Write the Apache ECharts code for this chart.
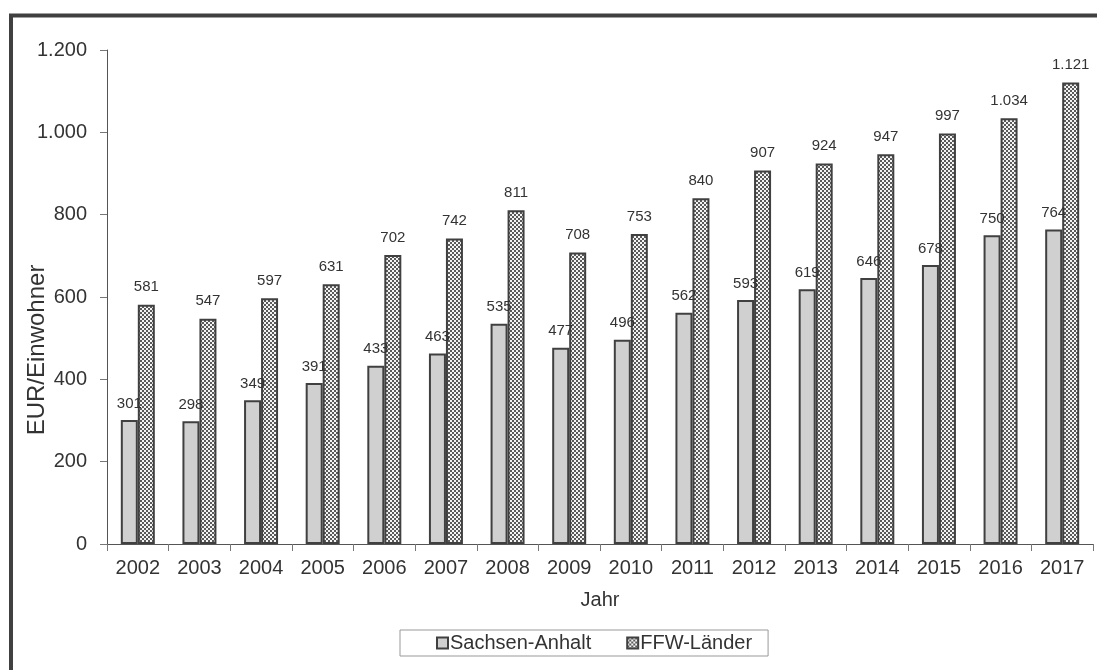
<!DOCTYPE html>
<html>
<head>
<meta charset="utf-8">
<script src="https://cdn.jsdelivr.net/npm/echarts@6/dist/echarts.min.js"></script>
<style>
html,body{margin:0;padding:0;background:#fff;}
#chart{width:1097px;height:670px;}
</style>
</head>
<body>
<div id="chart"></div>
<script>
const years = ['2002','2003','2004','2005','2006','2007','2008','2009','2010','2011','2012','2013','2014','2015','2016','2017'];
const sachsenAnhalt = [301,298,349,391,433,463,535,477,496,562,593,619,646,678,750,764];
const ffwLaender = [581,547,597,631,702,742,811,708,753,840,907,924,947,997,1034,1121];
const seriesNames = ['Sachsen-Anhalt','FFW-Länder'];
const yTicks = {min:0, max:1200, interval:200};
const yAxisTitle = 'EUR/Einwohner';
const xAxisTitle = 'Jahr';

function de(v){
  const s = String(Math.round(v));
  return s.replace(/\B(?=(\d{3})+(?!\d))/g, '.');
}

const pc = document.createElement('canvas');
pc.width = 4; pc.height = 4;
const g = pc.getContext('2d');
g.fillStyle = '#f4f4f4'; g.fillRect(0,0,4,4);
g.fillStyle = '#5a5a5a'; g.fillRect(0,0,2,2); g.fillRect(2,2,2,2);

const font = 'Liberation Sans, Arial, sans-serif';
const chart = echarts.init(document.getElementById('chart'), null, {renderer:'canvas'});
chart.setOption({
  animation:false,
  textStyle:{fontFamily:font},
  grid:{left:107, right:4, top:50, bottom:126},
  graphic:[
    {type:'rect', shape:{x:11, y:15.5, width:1200, height:1000}, style:{fill:'none', stroke:'#404040', lineWidth:4}, z:100},
    {type:'text', x:37, y:350, rotation:Math.PI/2,
     style:{text:yAxisTitle, align:'center', verticalAlign:'middle', fill:'#333', font:'24px Liberation Sans, Arial, sans-serif'}}
  ],
  legend:{
    bottom:14, left:400, orient:'horizontal',
    data:seriesNames,
    borderColor:'#999', borderWidth:1, borderRadius:0,
    padding:[3,16,3,36], itemGap:35, itemWidth:11, itemHeight:11,
    textStyle:{fontSize:20, color:'#333', fontFamily:font, padding:[0,0,0,-3]},
    icon:'rect'
  },
  xAxis:{
    type:'category', data:years,
    name:xAxisTitle, nameLocation:'middle', nameGap:46,
    nameTextStyle:{fontSize:20, color:'#333', fontFamily:font},
    axisLine:{lineStyle:{color:'#555', width:1}},
    axisTick:{show:true, length:7, lineStyle:{color:'#777'}},
    axisLabel:{fontSize:20, color:'#333', margin:14, fontFamily:font}
  },
  yAxis:{
    type:'value', min:yTicks.min, max:yTicks.max, interval:yTicks.interval,
    axisLine:{show:true, lineStyle:{color:'#555', width:1}},
    axisTick:{show:true, length:7, lineStyle:{color:'#777'}},
    splitLine:{show:false},
    axisLabel:{fontSize:20, color:'#333', margin:20, fontFamily:font, formatter:de}
  },
  series:[
    {name:seriesNames[0], type:'bar', data:sachsenAnhalt, barWidth:17, barGap:'0%',
     itemStyle:{color:'#d0d0d0', borderColor:'#404040', borderWidth:2},
     label:{show:true, position:'top', distance:9, fontSize:15, color:'#333', fontFamily:font, formatter:p=>de(p.value)}},
    {name:seriesNames[1], type:'bar', data:ffwLaender, barWidth:17, barGap:'0%',
     itemStyle:{color:{image:pc, repeat:'repeat'}, borderColor:'#404040', borderWidth:2},
     label:{show:true, position:'top', distance:10, fontSize:15, color:'#333', fontFamily:font, formatter:p=>de(p.value)}}
  ]
});
</script>
</body>
</html>
